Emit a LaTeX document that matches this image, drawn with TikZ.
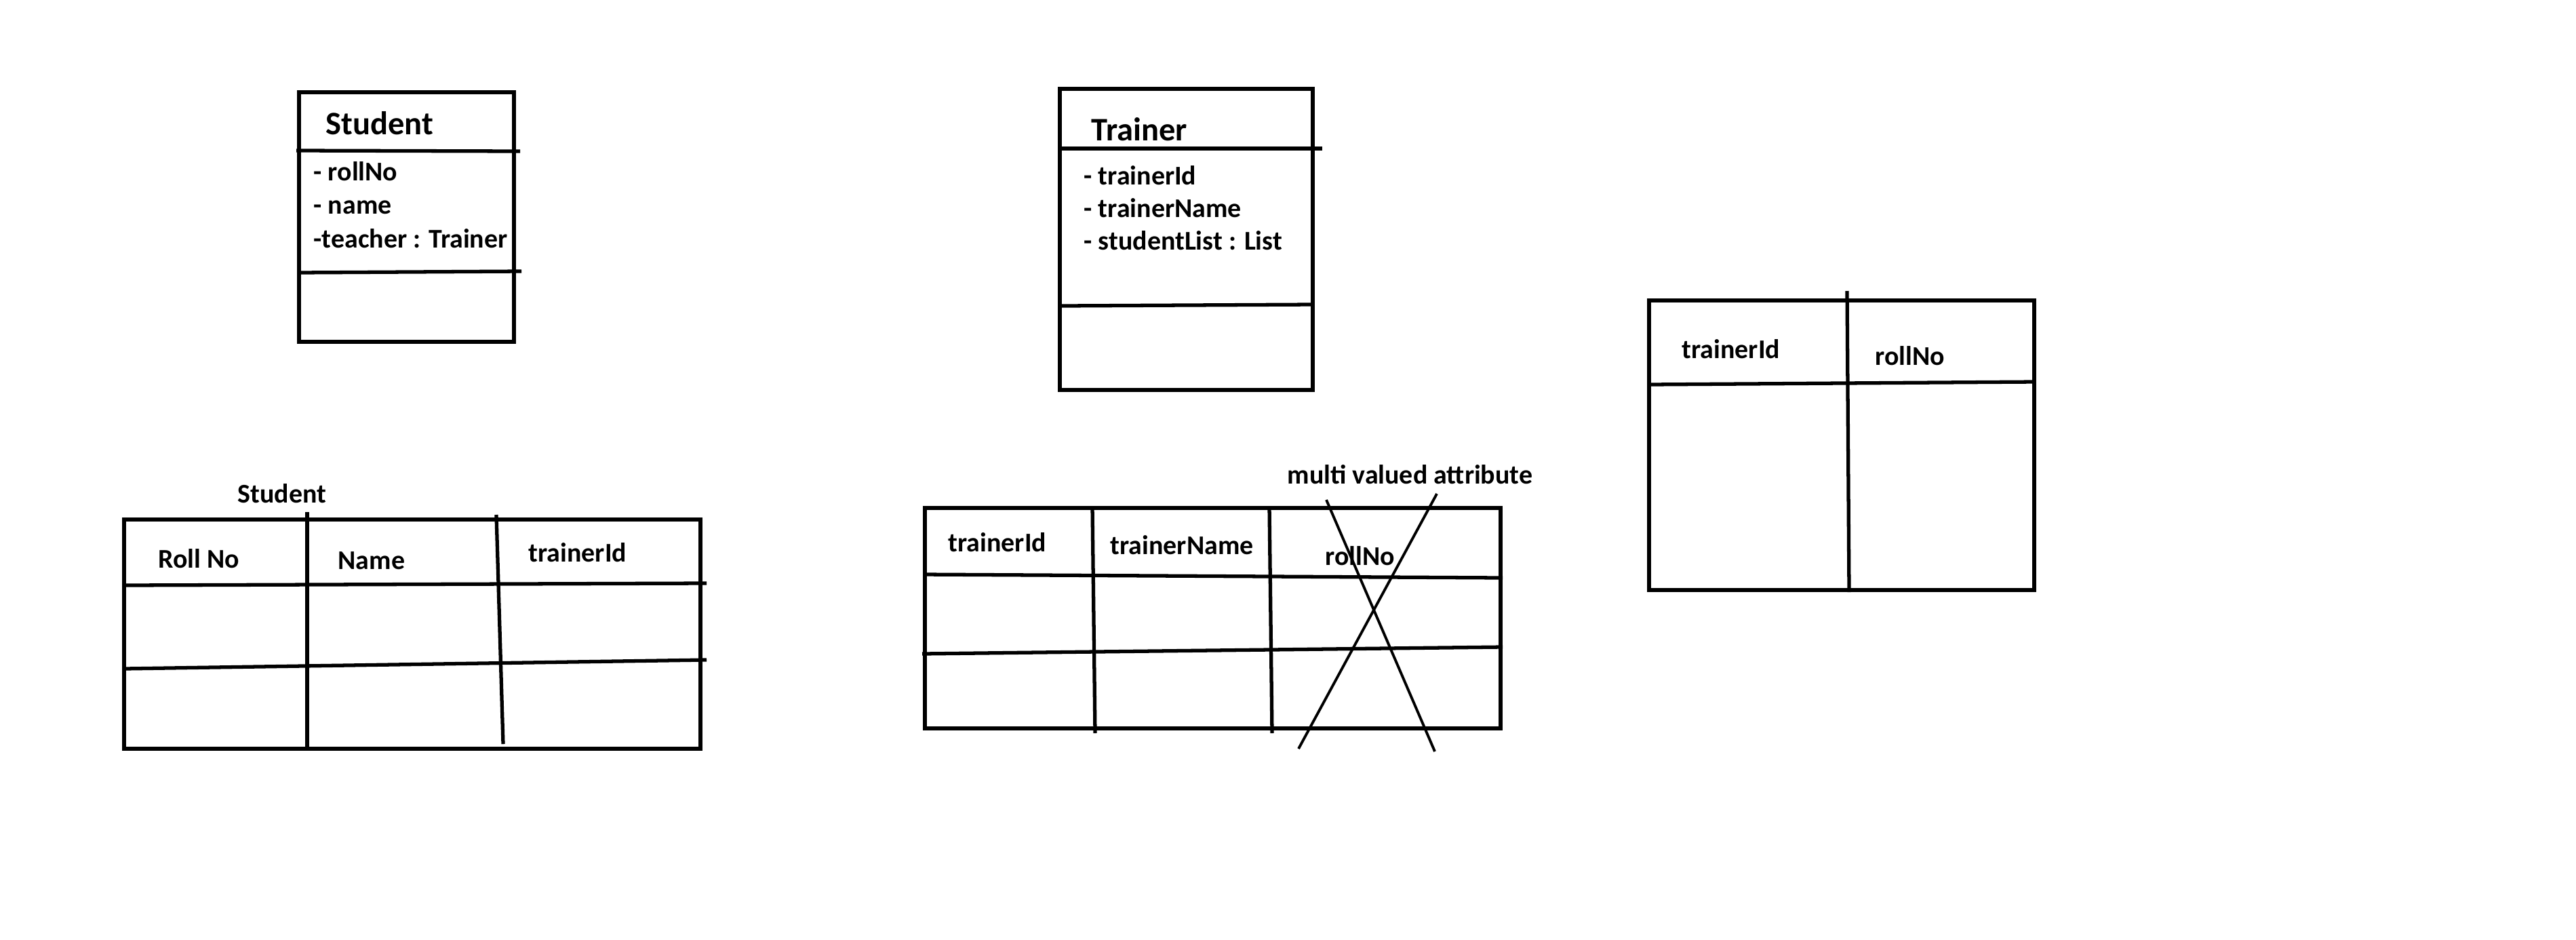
\documentclass[tikz,border=0pt]{standalone}
\usepackage{fontspec}
\setmainfont{Carlito}

\begin{document}
\begin{tikzpicture}
  \tikzset{
    box/.style={line width=1.5pt},
    strike/.style={line width=1.1pt},
    txt/.style={anchor=base west, inner sep=0pt, font=\fontsize{11.35}{13}\selectfont\bfseries},
    heading/.style={anchor=base west, inner sep=0pt, font=\fontsize{13.8}{16}\selectfont\bfseries}
  }
  \useasboundingbox (0,0) rectangle (37.99,-13.85);

  % Student class
  \draw[box] (4.41,-1.36) rectangle (7.58,-5.04);
  \draw[box] (4.37,-2.22) -- (7.67,-2.23);
  \draw[box] (4.39,-4.02) -- (7.69,-4.00);
  \node[heading] (stuclass) at (4.80,-1.98) {Student};
  \node[txt] (sturoll) at (4.62,-2.66) {- rollNo};
  \node[txt] (stuname) at (4.62,-3.15) {- name};
  \node[txt] (stuteacher) at (4.62,-3.65) {-teacher : Trainer};

  % Trainer class
  \draw[box] (15.63,-1.31) rectangle (19.36,-5.75);
  \draw[box] (15.63,-2.19) -- (19.50,-2.19);
  \draw[box] (15.66,-4.51) -- (19.36,-4.49);
  \node[heading] (trnclass) at (16.09,-2.07) {Trainer};
  \node[txt] (trnid) at (15.98,-2.72) {- trainerId};
  \node[txt] (trnname) at (15.98,-3.20) {- trainerName};
  \node[txt] (trnlist) at (15.98,-3.68) {- studentList : List};

  % Student table
  \node[txt] (stutable) at (3.50,-7.41) {Student};
  \draw[box] (1.83,-7.66) rectangle (10.33,-11.04);
  \draw[box] (1.82,-8.63) -- (10.42,-8.60);
  \draw[box] (1.83,-9.86) -- (10.42,-9.73);
  \draw[box] (4.53,-7.55) -- (4.53,-11.04);
  \draw[box] (7.32,-7.59) -- (7.42,-10.97);
  \node[txt] (colroll) at (2.33,-8.37) {Roll No};
  \node[txt] (colname) at (4.98,-8.39) {Name};
  \node[txt] (coltid) at (7.79,-8.28) {trainerId};

  % Trainer table
  \draw[box] (13.64,-7.49) rectangle (22.13,-10.74);
  \draw[box] (13.61,-8.47) -- (22.16,-8.52);
  \draw[box] (13.60,-9.64) -- (22.16,-9.54);
  \draw[box] (16.11,-7.47) -- (16.15,-10.81);
  \draw[box] (18.72,-7.47) -- (18.76,-10.81);
  \node[txt] (tcolid) at (13.98,-8.13) {trainerId};
  \node[txt] (tcolname) at (16.37,-8.17) {trainerName};
  \node[txt] (tcolroll) at (19.54,-8.33) {rollNo};

  % Crossed out column
  \node[txt] (multi) at (18.98,-7.13) {multi valued attribute};
  \draw[strike] (19.56,-7.37) -- (21.16,-11.08);
  \draw[strike] (21.19,-7.28) -- (19.15,-11.04);

  % Link table
  \draw[box] (24.32,-4.43) rectangle (30.00,-8.70);
  \draw[box] (24.32,-5.67) -- (30.02,-5.63);
  \draw[box] (27.24,-4.29) -- (27.27,-8.73);
  \node[txt] (lnkid) at (24.80,-5.28) {trainerId};
  \node[txt] (lnkroll) at (27.65,-5.38) {rollNo};
\end{tikzpicture}
\end{document}
